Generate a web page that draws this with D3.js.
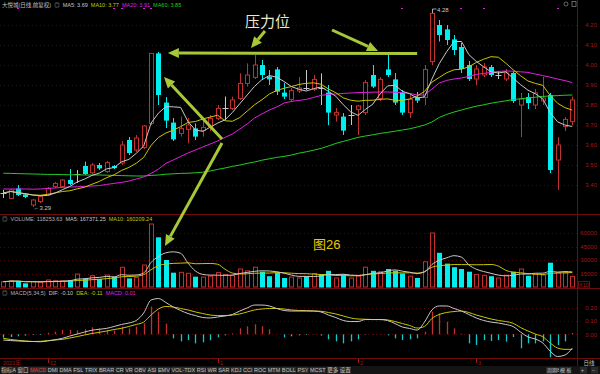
<!DOCTYPE html>
<html>
<head>
<meta charset="utf-8">
<script src="https://cdn.jsdelivr.net/npm/d3@7"></script>
<style>
html, body { margin: 0; padding: 0; background: #000; }
svg { display: block; }
text { font-family: "Liberation Sans", "Noto Sans CJK SC", sans-serif; }
</style>
</head>
<body>
<div id="chart"></div>
<script>
// trading days, Nov 2021 - Mar 2022
const months = ["2021-11", "2021-12", "2022-01", "2022-02", "2022-03"];
const monthDays = [
  [23, 24, 25, 26, 29, 30],
  [1, 2, 3, 6, 7, 8, 9, 10, 13, 14, 15, 16, 17, 20, 21, 22, 23, 24, 27, 28, 29, 30, 31],
  [4, 5, 6, 7, 10, 11, 12, 13, 14, 17, 18, 19, 20, 21, 24, 25, 26, 27, 28],
  [7, 8, 9, 10, 11, 14, 15, 16, 17, 18, 21, 22, 23, 24, 25, 28],
  [1, 2, 3, 4, 7, 8, 9, 10, 11, 14, 15, 16, 17, 18]
];
const monthLabels = ["2021年", "12", "1", "2", "3"];

const openP = [3.36, 3.333, 3.383, 3.353, 3.30, 3.317, 3.35, 3.392, 3.392, 3.425,
  3.455, 3.495, 3.461, 3.50, 3.467, 3.495, 3.51, 3.625, 3.575, 3.588,
  3.708, 4.058, 3.812, 3.712, 3.658, 3.678, 3.683, 3.672, 3.692, 3.733,
  3.783, 3.783, 3.833, 3.908, 3.938, 4.00, 3.942, 3.978, 3.862, 3.828,
  3.87, 3.883, 3.878, 3.883, 3.862, 3.75, 3.742, 3.75, 3.778, 3.762,
  3.95, 3.833, 3.978, 3.928, 3.862, 3.762, 3.838, 3.838, 4.017, 4.20,
  4.178, 4.128, 4.09, 4.00, 3.93, 3.95, 3.99, 3.95, 3.93, 3.96,
  3.80, 3.84, 3.80, 3.82, 3.85, 3.525, 3.692, 3.717];
const highP = [3.375, 3.38, 3.40, 3.36, 3.33, 3.35, 3.39, 3.415, 3.43, 3.48,
  3.475, 3.517, 3.51, 3.51, 3.52, 3.50, 3.62, 3.64, 3.65, 3.70,
  4.06, 4.065, 3.84, 3.735, 3.742, 3.735, 3.708, 3.725, 3.75, 3.80,
  3.842, 3.842, 3.958, 4.008, 4.05, 4.025, 3.975, 3.99, 3.91, 3.885,
  3.94, 3.975, 3.95, 3.958, 3.90, 3.785, 3.76, 3.80, 3.80, 3.925,
  4.00, 3.94, 4.05, 3.96, 3.875, 3.85, 3.865, 4.00, 4.28, 4.225,
  4.20, 4.15, 4.11, 4.02, 4.00, 4.01, 4.00, 3.97, 3.98, 3.97,
  3.86, 3.86, 3.88, 3.94, 3.86, 3.64, 3.74, 3.842];
const lowP = [3.335, 3.33, 3.345, 3.335, 3.29, 3.31, 3.345, 3.385, 3.385, 3.40,
  3.41, 3.45, 3.455, 3.475, 3.46, 3.48, 3.50, 3.55, 3.565, 3.58,
  3.70, 3.80, 3.685, 3.62, 3.642, 3.608, 3.625, 3.642, 3.67, 3.725,
  3.725, 3.775, 3.825, 3.892, 3.93, 3.925, 3.90, 3.85, 3.83, 3.815,
  3.86, 3.875, 3.87, 3.80, 3.70, 3.717, 3.65, 3.70, 3.65, 3.75,
  3.885, 3.82, 3.94, 3.80, 3.75, 3.735, 3.81, 3.80, 4.00, 4.117,
  4.10, 4.05, 3.96, 3.92, 3.90, 3.94, 3.94, 3.93, 3.92, 3.81,
  3.64, 3.78, 3.78, 3.80, 3.46, 3.375, 3.67, 3.70];
const closeP = [3.36, 3.375, 3.35, 3.34, 3.325, 3.342, 3.383, 3.408, 3.425, 3.405,
  3.455, 3.455, 3.50, 3.483, 3.512, 3.485, 3.60, 3.56, 3.635, 3.695,
  4.058, 3.85, 3.722, 3.628, 3.683, 3.70, 3.642, 3.688, 3.733, 3.783,
  3.783, 3.825, 3.908, 3.95, 4.00, 3.95, 3.928, 3.867, 3.842, 3.872,
  3.885, 3.883, 3.928, 3.883, 3.762, 3.762, 3.672, 3.75, 3.795, 3.912,
  3.892, 3.928, 3.95, 3.812, 3.762, 3.828, 3.822, 3.978, 4.258, 4.15,
  4.125, 4.075, 3.98, 3.93, 3.98, 3.99, 3.95, 3.95, 3.96, 3.82,
  3.83, 3.81, 3.86, 3.835, 3.475, 3.60, 3.728, 3.825];

// volume, in units of 10 shares (axis shows X10)
const volume = [5900, 7000, 6700, 4100, 5900, 5200, 7800, 7000, 6700, 7800,
  14400, 9600, 12600, 8900, 13300, 11500, 21900, 9600, 10400, 24400,
  70000, 55200, 30000, 15900, 16300, 15200, 11500, 11000, 12000, 16000,
  14000, 13000, 20000, 18000, 22000, 17000, 12000, 16000, 10000, 11000,
  10000, 12000, 15000, 14000, 18000, 10000, 14000, 10000, 12000, 22000,
  18000, 17000, 20000, 18000, 15000, 12000, 10000, 28000, 60000, 38000,
  26000, 22000, 20000, 17000, 14000, 13000, 12000, 10000, 13000, 17000,
  20000, 12500, 14000, 13300, 27000, 16000, 15500, 11825];

// moving averages (need history before the first day)
const ma20 = [3.380, 3.380, 3.380, 3.380, 3.379, 3.380, 3.383, 3.385, 3.388, 3.390,
  3.391, 3.393, 3.395, 3.397, 3.403, 3.408, 3.413, 3.420, 3.430, 3.440,
  3.458, 3.480, 3.508, 3.525, 3.543, 3.560, 3.575, 3.590, 3.605, 3.620,
  3.638, 3.655, 3.680, 3.705, 3.735, 3.755, 3.775, 3.790, 3.810, 3.818,
  3.823, 3.828, 3.838, 3.848, 3.853, 3.855, 3.858, 3.860, 3.862, 3.863,
  3.864, 3.865, 3.865, 3.864, 3.862, 3.858, 3.850, 3.850, 3.880, 3.910,
  3.923, 3.930, 3.935, 3.943, 3.953, 3.958, 3.963, 3.968, 3.970, 3.969,
  3.966, 3.963, 3.955, 3.947, 3.939, 3.930, 3.922, 3.912];
const ma60 = [3.459, 3.458, 3.457, 3.456, 3.455, 3.454, 3.453, 3.453, 3.452, 3.451,
  3.451, 3.450, 3.450, 3.450, 3.449, 3.448, 3.447, 3.446, 3.445, 3.445,
  3.448, 3.450, 3.454, 3.456, 3.458, 3.459, 3.461, 3.464, 3.470, 3.478,
  3.485, 3.493, 3.500, 3.508, 3.515, 3.524, 3.531, 3.538, 3.543, 3.550,
  3.559, 3.566, 3.574, 3.583, 3.595, 3.608, 3.618, 3.628, 3.638, 3.645,
  3.651, 3.658, 3.663, 3.669, 3.675, 3.681, 3.690, 3.700, 3.715, 3.738,
  3.753, 3.765, 3.775, 3.785, 3.794, 3.801, 3.809, 3.815, 3.821, 3.827,
  3.831, 3.835, 3.839, 3.843, 3.845, 3.847, 3.849, 3.850];

// MACD(5,34,5)
const dif = [-0.043, -0.047, -0.050, -0.053, -0.054, -0.056, -0.050, -0.041, -0.030, -0.013,
  0.002, 0.017, 0.031, 0.038, 0.045, 0.059, 0.074, 0.085, 0.104, 0.160,
  0.258, 0.269, 0.239, 0.205, 0.179, 0.156, 0.141, 0.126, 0.123, 0.130,
  0.138, 0.149, 0.175, 0.198, 0.220, 0.220, 0.213, 0.194, 0.179, 0.175,
  0.175, 0.175, 0.175, 0.168, 0.145, 0.126, 0.104, 0.096, 0.096, 0.111,
  0.111, 0.111, 0.104, 0.081, 0.055, 0.044, 0.032, 0.092, 0.183, 0.213,
  0.213, 0.194, 0.175, 0.149, 0.123, 0.104, 0.092, 0.085, 0.074, 0.058,
  0.017, -0.020, -0.035, -0.065, -0.126, -0.167, -0.156, -0.104];
const dea = [-0.030, -0.039, -0.045, -0.050, -0.054, -0.053, -0.047, -0.043, -0.038, -0.028,
  -0.017, -0.005, 0.006, 0.015, 0.025, 0.036, 0.045, 0.059, 0.074, 0.092,
  0.145, 0.190, 0.209, 0.205, 0.194, 0.183, 0.168, 0.156, 0.145, 0.141,
  0.141, 0.145, 0.153, 0.168, 0.183, 0.190, 0.194, 0.194, 0.190, 0.183,
  0.179, 0.178, 0.175, 0.173, 0.164, 0.153, 0.138, 0.123, 0.115, 0.113,
  0.111, 0.111, 0.108, 0.096, 0.081, 0.066, 0.047, 0.059, 0.119, 0.149,
  0.164, 0.171, 0.175, 0.164, 0.145, 0.130, 0.115, 0.104, 0.096, 0.083,
  0.051, 0.025, 0.002, -0.018, -0.065, -0.103, -0.113, -0.113];
const macd = [-0.025, -0.020, -0.015, -0.010, -0.005, -0.005, 0.012, 0.020, 0.033, 0.033,
  0.030, 0.038, 0.053, 0.045, 0.033, 0.028, 0.058, 0.045, 0.058, 0.083,
  0.208, 0.170, 0.080, -0.030, -0.053, -0.043, -0.068, -0.060, -0.045, -0.023,
  -0.008, 0.008, 0.045, 0.060, 0.075, 0.060, 0.038, 0.000, -0.023, -0.015,
  -0.008, -0.005, 0.002, -0.010, -0.038, -0.053, -0.068, -0.053, -0.038, -0.003,
  0.002, 0.003, -0.008, -0.030, -0.043, -0.038, -0.030, 0.020, 0.170, 0.158,
  0.095, 0.045, 0.005, -0.068, -0.080, -0.043, -0.050, -0.043, -0.055, -0.020,
  -0.105, -0.068, -0.068, -0.053, -0.173, -0.080, -0.053, 0.010];

const priceTicks = [3.40, 3.50, 3.60, 3.70, 3.80, 3.90, 4.00, 4.10, 4.20];
const volumeTicks = [15000, 30000, 45000, 60000];
const macdTicks = [0.00, 0.10, 0.20];
const newsDays = [2, 15, 16, 19, 20, 54, 62, 65, 75];
const toolTabs = ["指标A", "窗口", "MACD", "DMI", "DMA", "FSL", "TRIX", "BRAR", "CR", "VR", "OBV", "ASI", "EMV",
  "VOL-TDX", "RSI", "WR", "SAR", "KDJ", "CCI", "ROC", "MTM", "BOLL", "PSY", "MCST", "更多", "设置"];

const dates = months.flatMap((m, k) => monthDays[k].map(d => m + "-" + String(d).padStart(2, "0")));
const N = dates.length;

const movingAvg = (arr, n) => arr.map((_, i) => d3.mean(arr.slice(Math.max(0, i - n + 1), i + 1)));
const ma5 = movingAvg(closeP, 5);
const ma10 = movingAvg(closeP, 10);
const volMa5 = movingAvg(volume, 5);
const volMa10 = movingAvg(volume, 10);

const W = 600, H = 374, AXIS_X = 577.5;
const RED = "#c23030", CYAN = "#00eeee", GREY = "#c8c8c8";
const YELLOW = "#c8c800", MAGENTA = "#e020e0", GREEN = "#22cc22";
const AXIS_RED = "#a01818", LINE_RED = "#6e0c0c", ARROW = "#a8c838";

const svg = d3.select("#chart").append("svg")
  .attr("width", W).attr("height", H)
  .style("background", "#000");

const x = d3.scaleBand().domain(d3.range(N)).range([-0.4, 576])
  .paddingInner(0.3).paddingOuter(0.15);
const xc = i => x(i) + x.bandwidth() / 2;
const xr = i => Math.round(xc(i));

const yP = d3.scaleLinear().domain([3.255, 4.275]).range([214, 10]);
const yV = d3.scaleLinear().domain([0, 60000]).range([287, 233]);
const yM = d3.scaleLinear().domain([-0.178, 0.333]).range([358, 290]);

const isDoji = i => Math.abs(closeP[i] - openP[i]) < 0.003;
const isUp = i => isDoji(i) ? (i === 0 || closeP[i] >= closeP[i - 1]) : closeP[i] > openP[i];

// panel frames
const frame = svg.append("g").attr("stroke", LINE_RED).attr("stroke-width", 1);
frame.append("line").attr("x1", AXIS_X).attr("x2", AXIS_X).attr("y1", 0).attr("y2", 366);
[214.5, 288.5, 358.5].forEach(y => frame.append("line")
  .attr("x1", 0).attr("x2", W).attr("y1", y).attr("y2", y));

// dotted grid + right axes
function gridAndAxis(scale, ticks, fmt) {
  svg.append("g").selectAll("line").data(ticks).join("line")
    .attr("x1", 0).attr("x2", AXIS_X)
    .attr("y1", d => Math.round(scale(d)) + 0.5).attr("y2", d => Math.round(scale(d)) + 0.5)
    .attr("stroke", "#4a0808").attr("stroke-dasharray", "1,3");
  const ax = svg.append("g").attr("transform", `translate(597,0)`)
    .call(d3.axisLeft(scale).tickValues(ticks).tickFormat(fmt).tickSize(0).tickPadding(0));
  ax.select(".domain").remove();
  ax.selectAll("text").attr("fill", AXIS_RED).attr("font-size", 6);
}
gridAndAxis(yP, priceTicks, d3.format(".2f"));
gridAndAxis(yV, volumeTicks, d3.format("d"));
gridAndAxis(yM, macdTicks, d3.format(".2f"));

svg.append("rect").attr("x", 578.5).attr("y", 281.5).attr("width", 11).attr("height", 6.5)
  .attr("fill", "none").attr("stroke", LINE_RED);
svg.append("text").attr("x", 584).attr("y", 287).attr("text-anchor", "middle")
  .attr("font-size", 5.5).attr("fill", AXIS_RED).text("X10");

// main price panel
svg.append("clipPath").attr("id", "mainClip")
  .append("rect").attr("x", 0).attr("y", 8).attr("width", AXIS_X).attr("height", 206);
const main = svg.append("g").attr("clip-path", "url(#mainClip)");

main.selectAll("rect.news").data(newsDays).join("rect")
  .attr("x", d => xr(d) - 1).attr("y", 8).attr("width", 2).attr("height", 1)
  .attr("fill", MAGENTA);

const candles = main.append("g").selectAll("g").data(d3.range(N)).join("g");
candles.each(function (i) {
  const g = d3.select(this);
  const c = xr(i) + 0.5;
  const top = yP(Math.max(openP[i], closeP[i]));
  const bot = yP(Math.min(openP[i], closeP[i]));
  if (isDoji(i)) {
    g.append("line").attr("x1", c).attr("x2", c).attr("y1", yP(highP[i])).attr("y2", yP(lowP[i])).attr("stroke", GREY);
    g.append("line").attr("x1", c - 3).attr("x2", c + 3).attr("y1", Math.round(top) + 0.5).attr("y2", Math.round(top) + 0.5).attr("stroke", GREY);
  } else if (closeP[i] > openP[i]) {
    g.append("line").attr("x1", c).attr("x2", c).attr("y1", yP(highP[i])).attr("y2", top).attr("stroke", RED);
    g.append("line").attr("x1", c).attr("x2", c).attr("y1", bot).attr("y2", yP(lowP[i])).attr("stroke", RED);
    g.append("rect").attr("x", c - 2).attr("y", top).attr("width", 4).attr("height", Math.max(1, bot - top))
      .attr("fill", "#000").attr("stroke", RED);
  } else {
    g.append("line").attr("x1", c).attr("x2", c).attr("y1", yP(highP[i])).attr("y2", yP(lowP[i])).attr("stroke", CYAN);
    g.append("rect").attr("x", c - 2.5).attr("y", top).attr("width", 5).attr("height", Math.max(1, bot - top))
      .attr("fill", CYAN);
  }
});

const priceLine = d3.line().x((d, i) => xc(i)).y(d => yP(d));
[[ma60, GREEN], [ma20, MAGENTA], [ma10, YELLOW], [ma5, GREY]].forEach(([s, col]) =>
  main.append("path").datum(s).attr("d", priceLine).attr("fill", "none")
    .attr("stroke", col).attr("stroke-width", 1));

// high / low markers
const iHigh = d3.maxIndex(highP), iLow = d3.minIndex(lowP);
main.append("path")
  .attr("d", `M${xr(iHigh) + 0.5},${yP(highP[iHigh]) + 4}V${yP(highP[iHigh])}h4`)
  .attr("fill", "none").attr("stroke", GREY).attr("stroke-width", 0.8);
main.append("text").attr("x", xr(iHigh) + 5).attr("y", yP(highP[iHigh]) + 3)
  .attr("font-size", 6).attr("fill", GREY).text(d3.format(".2f")(highP[iHigh]));
main.append("text").attr("x", xr(iLow) + 0.5).attr("y", yP(lowP[iLow]) + 2.5)
  .attr("font-size", 6).attr("fill", GREY).text("←" + d3.format(".2f")(lowP[iLow]));

// volume panel
const vol = svg.append("g");
vol.selectAll("rect").data(d3.range(N)).join("rect")
  .each(function (i) {
    const r = d3.select(this);
    const c = xr(i) + 0.5;
    const top = yV(volume[i]);
    if (isUp(i)) {
      r.attr("x", c - 2).attr("y", top).attr("width", 4).attr("height", yV(0) - top)
        .attr("fill", "#000").attr("stroke", RED);
    } else {
      r.attr("x", c - 2.5).attr("y", top).attr("width", 5).attr("height", yV(0) - top + 0.5)
        .attr("fill", CYAN);
    }
  });
const volLine = d3.line().x((d, i) => xc(i)).y(d => yV(d)).curve(d3.curveMonotoneX);
[[volMa10, YELLOW], [volMa5, GREY]].forEach(([s, col]) =>
  vol.append("path").datum(s).attr("d", volLine).attr("fill", "none").attr("stroke", col));

// MACD panel
const mg = svg.append("g");
mg.selectAll("line").data(d3.range(N)).join("line")
  .attr("x1", i => xr(i) + 0.5).attr("x2", i => xr(i) + 0.5)
  .attr("y1", yM(0)).attr("y2", i => yM(macd[i]))
  .attr("stroke", i => macd[i] >= 0 ? RED : "#10c8c8").attr("stroke-width", 1.3);
const macdLine = d3.line().x((d, i) => xc(i)).y(d => yM(d)).curve(d3.curveMonotoneX);
[[dea, YELLOW], [dif, GREY]].forEach(([s, col]) =>
  mg.append("path").datum(s).attr("d", macdLine).attr("fill", "none").attr("stroke", col));

// panel headers, laid out one after the other
function header(y, parts) {
  const t = svg.append("text").attr("x", 2).attr("y", y).attr("font-size", 5.5);
  parts.forEach(([str, col], k) => t.append("tspan").attr("dx", k ? 3 : 0).attr("fill", col).text(str));
}
header(7, [["大悦城(日线,前复权)", "#c0c0c0"], ["◎", "#a0a0a0"], ["MA5: 3.69", GREY],
  ["MA10: 3.77", YELLOW], ["MA20: 3.91", MAGENTA], ["MA60: 3.85", GREEN]]);
header(221, [["◎", "#a0a0a0"], ["VOLUME: 118253.63", "#b0b0b0"], ["MA5: 167371.25", GREY],
  ["MA10: 160209.24", YELLOW]]);
header(295, [["◎", "#a0a0a0"], ["MACD(5,34,5)", "#b0b0b0"], ["DIF: -0.10", GREY],
  ["DEA: -0.11", YELLOW], ["MACD: 0.01", MAGENTA]]);

// top right icons
svg.append("circle").attr("cx", 566).attr("cy", 4).attr("r", 2).attr("fill", "none").attr("stroke", "#909090").attr("stroke-width", 0.7);
svg.append("rect").attr("x", 572).attr("y", 1.5).attr("width", 4).attr("height", 5).attr("fill", "none").attr("stroke", "#909090").attr("stroke-width", 0.7);

// date row
const firstOfMonth = monthDays.map((_, k) => d3.sum(monthDays.slice(0, k), a => a.length));
firstOfMonth.forEach((idx, k) => {
  const px = k === 0 ? 3 : xr(idx);
  if (k > 0) svg.append("line").attr("x1", px + 0.5).attr("x2", px + 0.5).attr("y1", 359).attr("y2", 363).attr("stroke", AXIS_RED);
  svg.append("text").attr("x", px + (k === 0 ? 0 : 2)).attr("y", 364.5)
    .attr("font-size", 5.5).attr("fill", AXIS_RED).text(monthLabels[k]);
});
svg.append("text").attr("x", 589).attr("y", 364.5).attr("text-anchor", "middle")
  .attr("font-size", 5.5).attr("fill", "#c0c0c0").text("日线");

// bottom toolbar
svg.append("rect").attr("x", 0).attr("y", 366).attr("width", W).attr("height", 8).attr("fill", "#141414");
const tabs = svg.append("g");
const tabTexts = toolTabs.map(s => tabs.append("text").attr("y", 372).attr("font-size", 5.5)
  .attr("fill", s === "MACD" ? "#e03838" : "#c0c0c0").text(s));
const widths = tabTexts.map(t => t.node().getComputedTextLength());
const gap = (352 - 1 - d3.sum(widths)) / toolTabs.length;
let tx = 1;
tabTexts.forEach((t, k) => {
  tabs.insert("rect", "text").attr("x", tx).attr("y", 367).attr("width", widths[k] + gap - 1).attr("height", 6.5).attr("fill", "#2a2a2a");
  t.attr("x", tx + (gap - 1) / 2);
  tx += widths[k] + gap;
});
[["周期8", 547], ["模 板", 560], ["+", 581], ["−", 592]].forEach(([s, px]) => {
  svg.append("rect").attr("x", px - 1).attr("y", 367).attr("width", s.length > 1 ? 11.5 : 7).attr("height", 6.5).attr("fill", "#2a2a2a");
  svg.append("text").attr("x", px).attr("y", 372).attr("font-size", 5).attr("fill", "#c0c0c0").text(s);
});

// annotations
function arrow(x1, y1, x2, y2) {
  const a = Math.atan2(y2 - y1, x2 - x1), L = 11, Wd = 5;
  const bx = x2 - L * Math.cos(a), by = y2 - L * Math.sin(a);
  svg.append("line").attr("x1", x1).attr("y1", y1).attr("x2", bx).attr("y2", by)
    .attr("stroke", ARROW).attr("stroke-width", 3);
  svg.append("path")
    .attr("d", `M${x2},${y2}L${bx + Wd * Math.sin(a)},${by - Wd * Math.cos(a)}L${bx - Wd * Math.sin(a)},${by + Wd * Math.cos(a)}Z`)
    .attr("fill", ARROW);
}
const resistance = highP[20];
arrow(xc(56), yP(resistance) + 0.5, xc(22) + 2, yP(resistance));
arrow(222, 139, 164, 77);
arrow(222, 143, 165, 246);
arrow(265, 31, 251, 48);
arrow(332, 30, 378, 51);

svg.append("text").attr("x", 245).attr("y", 27).attr("font-size", 15)
  .attr("font-family", "Noto Sans CJK SC").attr("fill", "#ece8c8").text("压力位");
svg.append("text").attr("x", 313).attr("y", 249).attr("font-size", 13)
  .attr("font-family", "Noto Sans CJK SC").attr("fill", "#e8c800").text("图26");
</script>
</body>
</html>
